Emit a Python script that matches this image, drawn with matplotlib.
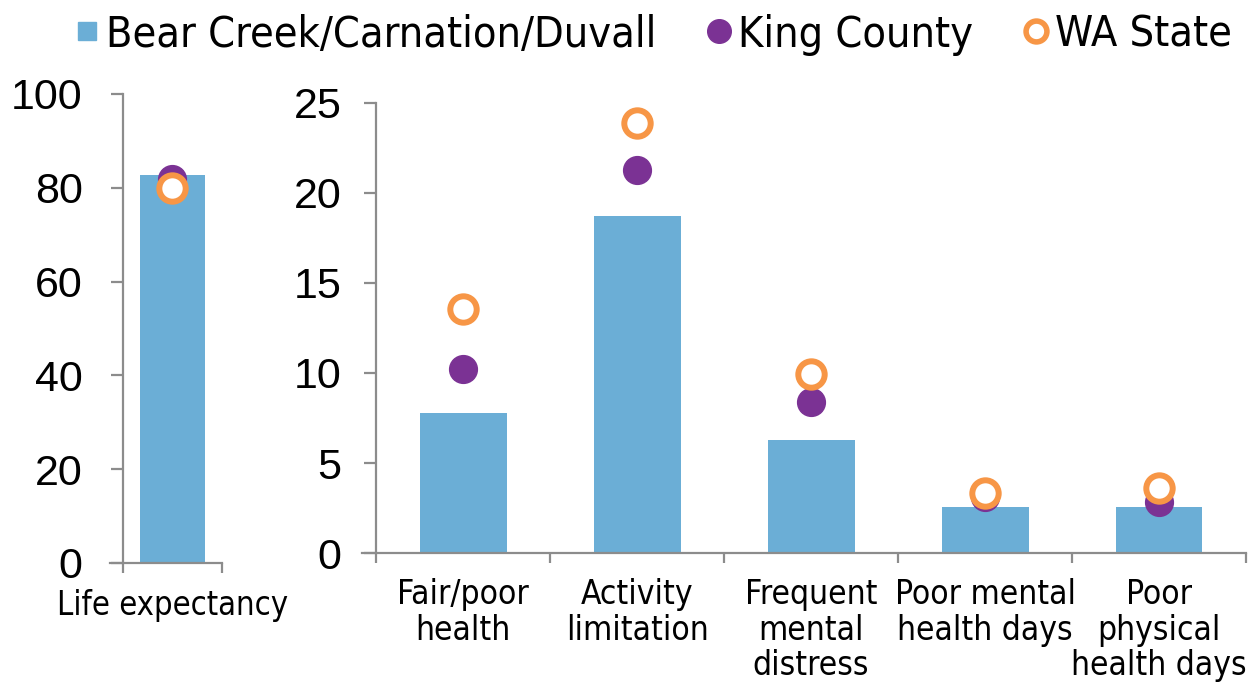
import numpy as np
import matplotlib as mpl
import matplotlib.pyplot as plt
from matplotlib.lines import Line2D

# data
life_label = ["Life expectancy"]
life_area = [82.8]
life_king = [81.9]
life_wa = [80.0]

categories = ["Fair/poor\nhealth", "Activity\nlimitation", "Frequent\nmental\ndistress",
              "Poor mental\nhealth days", "Poor\nphysical\nhealth days"]
area_vals = [7.8, 18.7, 6.3, 2.55, 2.55]
king_vals = [10.2, 21.3, 8.4, 3.1, 2.85]
wa_vals = [13.55, 23.9, 9.95, 3.33, 3.6]

series_names = ["Bear Creek/Carnation/Duvall", "King County", "WA State"]

blue = '#6baed6'
purple = '#7b3294'
orange = '#f79646'
grey = '#8c8c8c'

narrow = dict(family='DejaVu Sans', stretch='condensed')
mpl.rc('font', family=['Liberation Sans', 'DejaVu Sans'])

fig = plt.figure(figsize=(12.51, 6.82), dpi=100)
ax1 = fig.add_axes([0.0983, 0.1745, 0.0791, 0.6877])
ax2 = fig.add_axes([0.3006, 0.1891, 0.6954, 0.6600])


def style(ax):
    for s in ['top', 'right']:
        ax.spines[s].set_visible(False)
    for s in ['left', 'bottom']:
        ax.spines[s].set_color(grey)
        ax.spines[s].set_linewidth(1.6)
    ax.tick_params(axis='y', which='major', direction='out', length=9, width=1.6,
                   color=grey, labelsize=31)
    ax.tick_params(axis='x', which='major', length=0, labelsize=24)
    ax.tick_params(axis='x', which='minor', direction='out', length=7, width=1.6,
                   color=grey)
    for lab in ax.get_xticklabels():
        lab.set_fontstretch('condensed')


ring = dict(linestyle='none', marker='o', markersize=19, markerfacecolor='white',
            markeredgecolor=orange, markeredgewidth=4.3, zorder=4)
dot = dict(linestyle='none', marker='o', markersize=20, color=purple, zorder=3)

# life expectancy panel
x1 = np.arange(len(life_label))
ax1.bar(x1, life_area, width=0.65, color=blue, zorder=2)
ax1.plot(x1, life_king, **dot)
ax1.plot(x1, life_wa, **ring)
ax1.set_xlim(-0.5, 0.5)
ax1.set_ylim(0, 100)
ax1.set_yticks(np.arange(0, 101, 20))
ax1.set_xticks(x1)
ax1.set_xticklabels(life_label, fontfamily='DejaVu Sans')
ax1.set_xticks([-0.5, 0.5], minor=True)
style(ax1)
ax1.tick_params(axis='y', pad=20)
ax1.tick_params(axis='x', pad=19, labelsize=23.5)
ax1.spines['bottom'].set_bounds(-0.63, 0.5)

# other measures panel
x2 = np.arange(len(categories))
ax2.bar(x2, area_vals, width=0.5, color=blue, zorder=2)
ax2.plot(x2, king_vals, **dot)
ax2.plot(x2, wa_vals, **ring)
ax2.set_xlim(-0.5, len(categories) - 0.5)
ax2.set_ylim(0, 25)
ax2.set_yticks(np.arange(0, 26, 5))
ax2.set_xticks(x2)
ax2.set_xticklabels(categories, fontfamily='DejaVu Sans', linespacing=1.1)
ax2.set_xticks(np.arange(-0.5, len(categories)), minor=True)
style(ax2)
ax2.tick_params(axis='y', pad=16)
ax2.tick_params(axis='x', pad=18)
ax2.spines['bottom'].set_bounds(-0.58, len(categories) - 0.5)

handles = [
    Line2D([], [], linestyle='none', marker='s', markersize=13, color=blue),
    Line2D([], [], linestyle='none', marker='o', markersize=17, color=purple),
    Line2D([], [], linestyle='none', marker='o', markersize=15, markerfacecolor='white',
           markeredgecolor=orange, markeredgewidth=4),
]
fig.legend(handles, series_names, loc='upper left', bbox_to_anchor=(0.028, 1.037),
           ncol=3, frameon=False, prop=dict(narrow, size=31),
           handlelength=0.6, handletextpad=0.15, columnspacing=1.15)

plt.savefig("out.png", dpi=100)
